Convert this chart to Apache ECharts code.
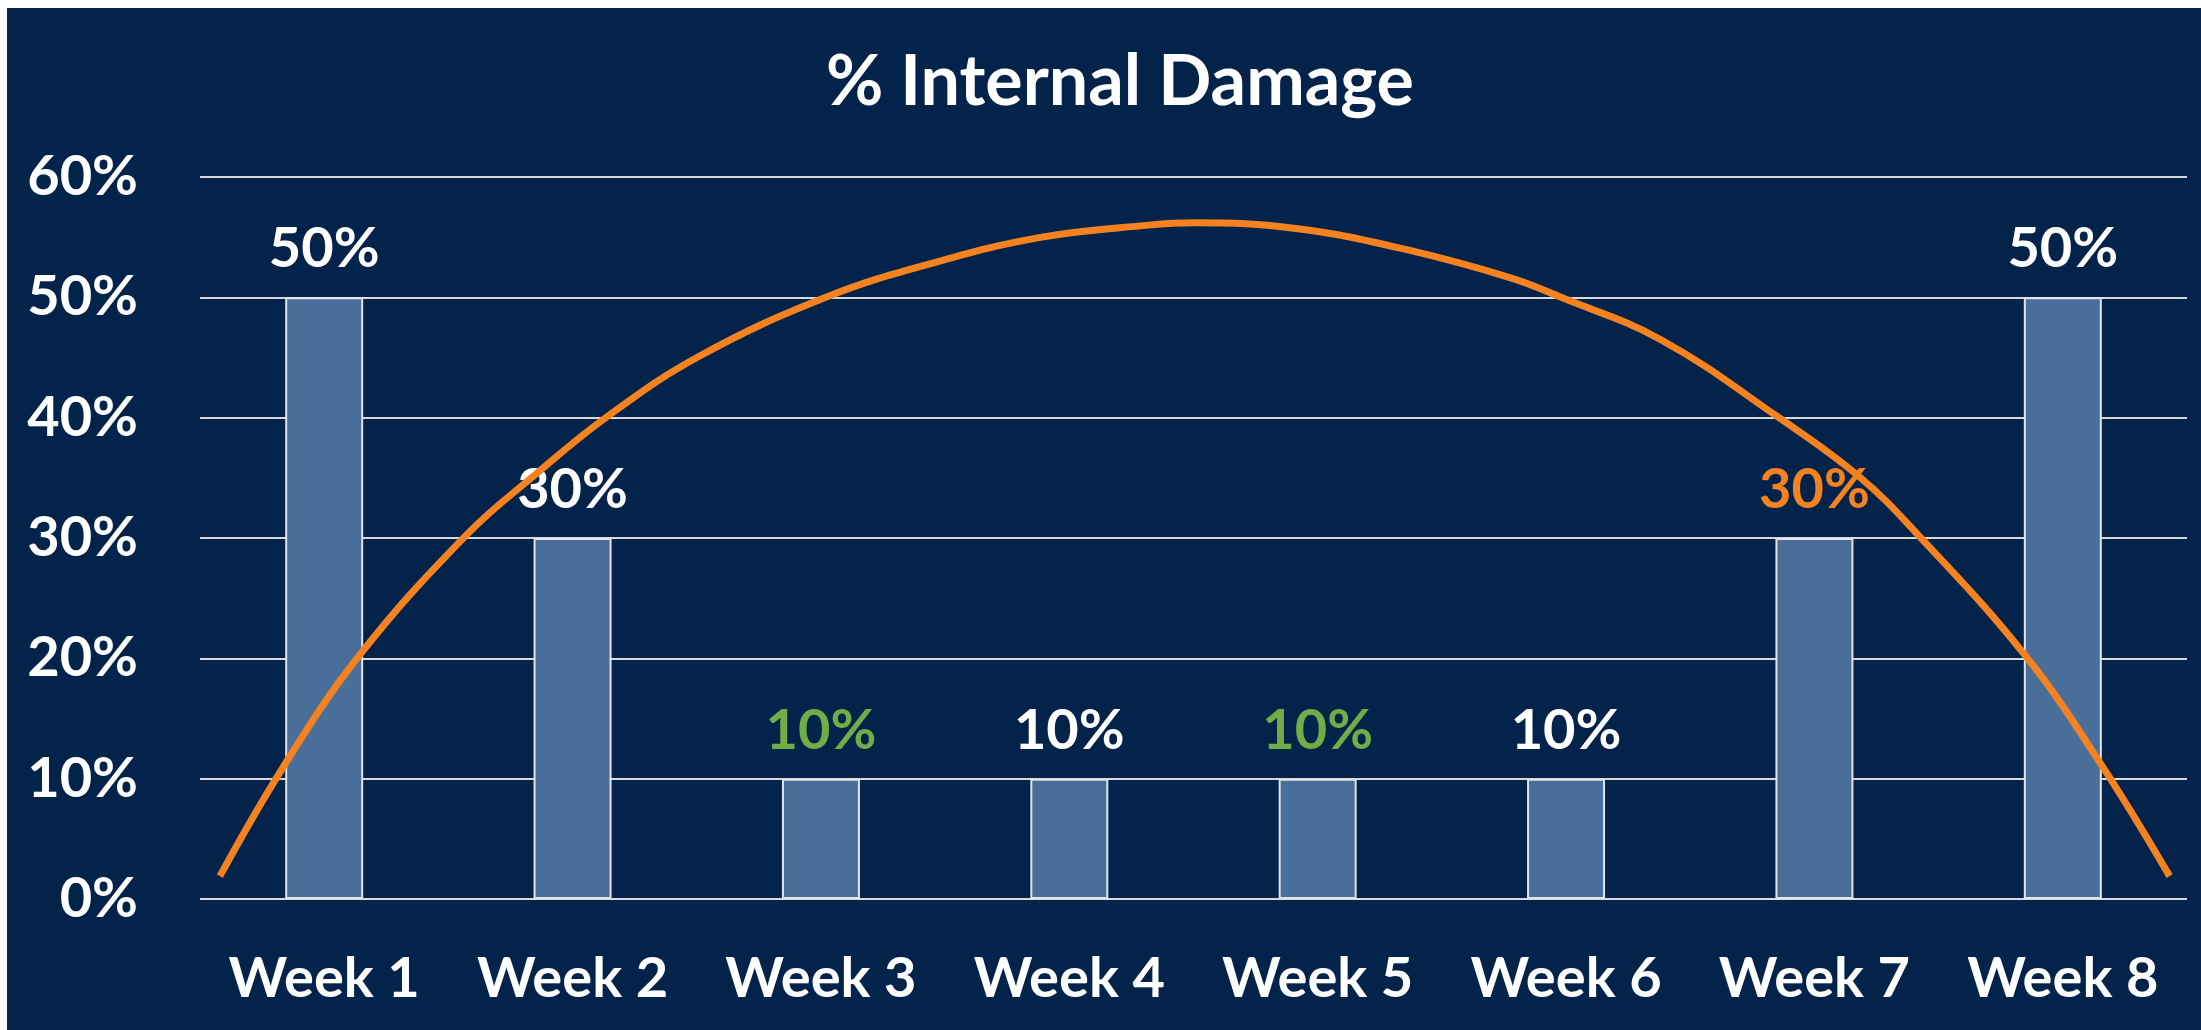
<!DOCTYPE html>
<html>
<head>
<meta charset="utf-8">
<script src="https://cdn.jsdelivr.net/npm/echarts@6/dist/echarts.min.js"></script>
<style>
  html, body { margin: 0; padding: 0; background: #ffffff; width: 2201px; height: 1030px; overflow: hidden; }
  #chart { position: absolute; left: 7px; top: 8px; width: 2194px; height: 1022px; }
</style>
</head>
<body>
<div id="chart"></div>
<script>
// ---- data ----
const titleText = '% Internal Damage';
const categories = ['Week 1', 'Week 2', 'Week 3', 'Week 4', 'Week 5', 'Week 6', 'Week 7', 'Week 8'];
const damageValues = [50, 30, 10, 10, 10, 10, 30, 50];
const labelColors = ['#FFFFFF', '#FFFFFF', '#70AD47', '#FFFFFF', '#70AD47', '#FFFFFF', '#F58220', '#FFFFFF'];
const yTicks = [0, 10, 20, 30, 40, 50, 60];
// curve: x in category-index units (Week 1 = 0), y in %
const curveX = [-0.42, -0.17, 0.14, 0.57, 0.84, 1.14, 1.51, 2.02, 2.46, 2.89, 3.32, 3.50, 3.92, 4.35, 4.78, 4.98, 5.38, 5.85, 6.18, 6.42, 6.85, 7.16, 7.43];
const curveY = [1.9, 10.8, 20.2, 30.2, 35.1, 40.1, 45.1, 50.0, 52.9, 55.0, 56.0, 56.2, 55.7, 54.0, 51.6, 50.0, 46.5, 40.1, 35.1, 30.2, 20.2, 11.0, 1.9];

const FONT = 'Lato';
const chart = echarts.init(document.getElementById('chart'), null, { renderer: 'canvas' });

const barData = damageValues.map((v, i) => ({
  value: v,
  label: { color: labelColors[i] }
}));
const curveData = curveX.map((x, i) => [x, curveY[i]]);

chart.setOption({
  backgroundColor: '#03234B',
  animation: false,
  title: {
    text: titleText,
    left: 1108,
    top: 34,
    textAlign: 'center',
    textStyle: { color: '#FFFFFF', fontFamily: FONT, fontWeight: 'bold', fontSize: 70 }
  },
  grid: { left: 193, right: 14, top: 169, bottom: 131, containLabel: false },
  xAxis: [
    {
      type: 'category',
      data: categories,
      boundaryGap: true,
      axisLine: { show: false },
      axisTick: { show: false },
      axisLabel: { interval: 0, color: '#FFFFFF', fontFamily: FONT, fontWeight: 'bold', fontSize: 56, margin: 52 }
    },
    {
      type: 'value',
      min: -0.5,
      max: 7.5,
      show: false
    }
  ],
  yAxis: {
    type: 'value',
    min: yTicks[0],
    max: yTicks[yTicks.length - 1],
    interval: 10,
    axisLine: { show: false },
    axisTick: { show: false },
    splitLine: { lineStyle: { color: '#D9D9D9', width: 2 } },
    axisLabel: {
      color: '#FFFFFF', fontFamily: FONT, fontWeight: 'bold', fontSize: 56, margin: 62,
      formatter: v => v + '%'
    }
  },
  series: [
    {
      type: 'bar',
      xAxisIndex: 0,
      data: barData,
      barWidth: 78,
      itemStyle: { color: '#4A6E9A', borderColor: '#E3E3E3', borderWidth: 2 },
      label: {
        show: true,
        position: 'top',
        distance: 20,
        fontFamily: FONT,
        fontWeight: 'bold',
        fontSize: 56,
        formatter: p => p.value + '%'
      },
      z: 2
    },
    {
      type: 'line',
      xAxisIndex: 1,
      data: curveData,
      smooth: 0.4,
      showSymbol: false,
      lineStyle: { color: '#F58220', width: 7 },
      z: 3
    }
  ]
});
</script>
</body>
</html>
